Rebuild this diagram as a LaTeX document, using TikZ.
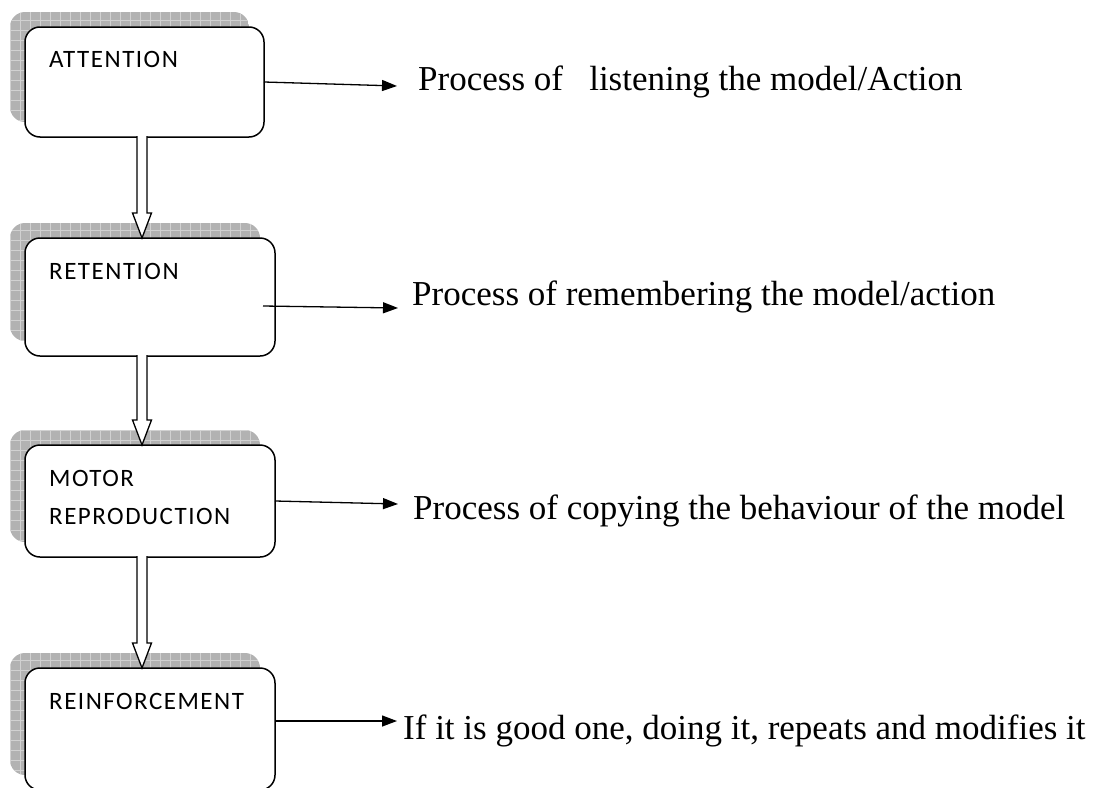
\documentclass[tikz,border=0pt]{standalone}
\usepackage{fontspec}
\setmainfont{Liberation Serif}
\newfontfamily\boxfont[LetterSpace=6]{Carlito}
\usetikzlibrary{arrows.meta,calc,backgrounds}

\newcommand\shadowof[1]{%
  \begin{scope}
    \clip[rounded corners=15pt] ($(#1.north west)+(-15,-15)$) rectangle ($(#1.south east)+(-15,-15)$);
    \fill[shadowfill] ($(#1.north west)+(-15,-15)$) rectangle ($(#1.south east)+(-15,-15)$);
    \draw[gridline] ($(#1.north west)+(-30,-30)$) grid ($(#1.south east)+(0,0)$);
  \end{scope}}

\newcommand\hollowarrow[2]{%
  \draw[hollow] ($(ax |- #1.south)+(-5,-1)$) -- ($(ax |- #2.north)+(-5,-25)$)
    -- ($(ax |- #2.north)+(-9.5,-25)$) -- (ax |- #2.north)
    -- ($(ax |- #2.north)+(9.5,-25)$) -- ($(ax |- #2.north)+(5,-25)$)
    -- ($(ax |- #1.south)+(5,-1)$);}

\begin{document}
\begin{tikzpicture}[x=1pt,y=-1pt,
  box/.style={draw, line width=1.5pt, rounded corners=15pt, fill=white, inner sep=0pt, outer sep=0pt},
  blabel/.style={inner sep=0pt, font=\boxfont\fontsize{25}{38}\selectfont, align=left},
  rtext/.style={anchor=base west, inner sep=0pt, font=\fontsize{35}{40}\selectfont},
  conn/.style={line width=1.3pt, -{Triangle[length=15pt,width=11pt]}},
  hollow/.style={draw, line width=1.3pt, fill=white, line join=miter},
  shadowfill/.style={fill=black!30},
  gridline/.style={draw=white!82!black, line width=0.9pt, step=10pt}
]
\useasboundingbox (0,0) rectangle (1094,787);

% boxes
\node[box, minimum width=239pt, minimum height=110pt] (a) at (144.5,82) {};
\node[box, minimum width=250pt, minimum height=118pt] (b) at (150,297) {};
\node[box, minimum width=250pt, minimum height=112pt] (c) at (150,501) {};
\node[box, minimum width=250pt, minimum height=122pt] (d) at (150,729) {};

\begin{scope}[on background layer]
  \shadowof{a}
  \shadowof{b}
  \shadowof{c}
  \shadowof{d}
\end{scope}

% box labels
\node[blabel, anchor=base west] (a-t) at (49,67) {ATTENTION};
\node[blabel, anchor=base west] (b-t) at (49,279) {RETENTION};
\node[blabel, anchor=north west] (c-t) at (49,470) {MOTOR\\REPRODUCTION};
\node[blabel, anchor=base west] (d-t) at (49,709) {REINFORCEMENT};

% hollow arrows
\coordinate (ax) at (142,0);
\hollowarrow{a}{b}
\hollowarrow{b}{c}
\hollowarrow{c}{d}

% right-hand texts
\node[rtext] (a-r) at (418,90) {Process of\ \ \ listening the model/Action};
\node[rtext] (b-r) at (412,305) {Process of remembering the model/action};
\node[rtext] (c-r) at (413,519) {Process of copying the behaviour of the model};
\node[rtext] (d-r) at (403,739) {If it is good one, doing it, repeats and modifies it};

% connectors
\coordinate (a-tip) at (397,86);
\coordinate (b-s) at (263,306);
\coordinate (b-tip) at (398,308);
\coordinate (c-tip) at (398,504);
\coordinate (d-s) at (275,721);
\coordinate (d-tip) at (397,721);
\draw[conn] (a.east) -- (a-tip);
\draw[conn] (b-s) -- (b-tip);
\draw[conn] (c.east) -- (c-tip);
\draw[conn] (d-s) -- (d-tip);
\end{tikzpicture}
\end{document}
